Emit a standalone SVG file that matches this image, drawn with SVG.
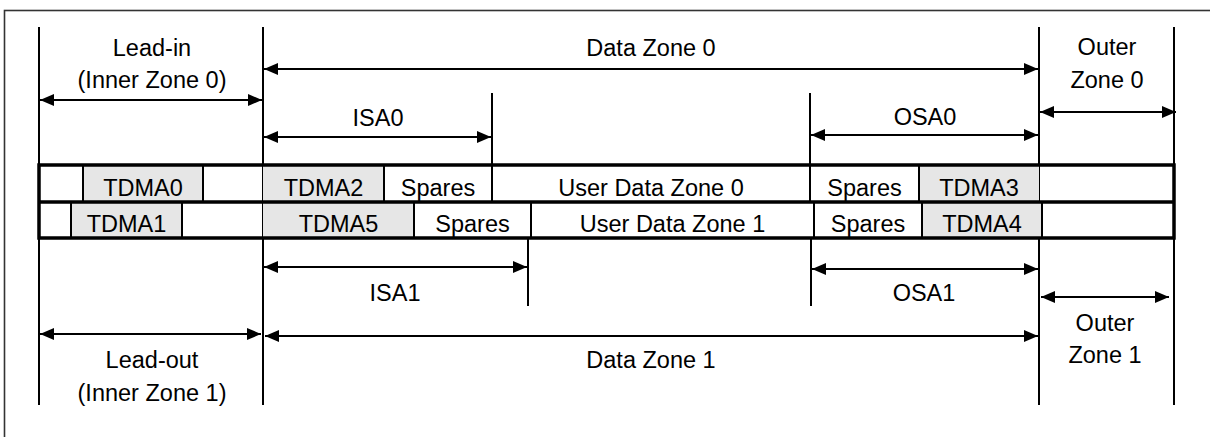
<svg xmlns="http://www.w3.org/2000/svg" width="1210" height="437" viewBox="0 0 1210 437">
<style>
text{font-family:"Liberation Sans",Arial,sans-serif;font-size:23.5px;fill:#000;text-anchor:middle}
.v{stroke:#000;stroke-width:2;fill:none}
.a{stroke:#000;stroke-width:2;fill:none;marker-start:url(#ah);marker-end:url(#ah)}
.g{fill:#e6e6e6;stroke:none}
.d{stroke:#000;stroke-width:2}
.b{stroke:#000;stroke-width:3.5;fill:none}
</style>
<defs>
<marker id="ah" viewBox="0 0 14 12" refX="14" refY="6" markerWidth="14" markerHeight="12" markerUnits="userSpaceOnUse" orient="auto-start-reverse">
<path d="M0,0 L14,6 L0,12 z" fill="#000"/>
</marker>
</defs>
<rect x="0" y="0" width="1210" height="437" fill="#fff"/>
<rect id="frame" x="4.5" y="10.5" width="1300" height="500" fill="none" stroke="#333" stroke-width="1.6"/>

<g id="guides">
<line class="v" x1="39" y1="27" x2="39" y2="405"/>
<line class="v" x1="263" y1="27" x2="263" y2="405"/>
<line class="v" x1="1039" y1="27" x2="1039" y2="405"/>
<line class="v" x1="1174" y1="27" x2="1174" y2="405"/>
<line class="v" x1="492" y1="93" x2="492" y2="165"/>
<line class="v" x1="810" y1="93" x2="810" y2="165"/>
<line class="v" x1="528" y1="238" x2="528" y2="306"/>
<line class="v" x1="811" y1="238" x2="811" y2="306"/>
</g>

<g id="row0">
<rect class="g" x="83" y="165" width="120" height="37"/>
<rect class="g" x="263" y="165" width="121" height="37"/>
<rect class="g" x="919" y="165" width="120" height="37"/>
<line class="d" x1="83" y1="165" x2="83" y2="202"/>
<line class="d" x1="203" y1="165" x2="203" y2="202"/>
<line class="d" x1="384" y1="165" x2="384" y2="202"/>
<line class="d" x1="492" y1="165" x2="492" y2="202"/>
<line class="d" x1="810" y1="165" x2="810" y2="202"/>
<line class="d" x1="919" y1="165" x2="919" y2="202"/>
</g>
<g id="row1">
<rect class="g" x="71" y="202" width="111" height="36"/>
<rect class="g" x="263" y="202" width="151" height="36"/>
<rect class="g" x="922" y="202" width="120" height="36"/>
<line class="d" x1="71" y1="202" x2="71" y2="238"/>
<line class="d" x1="182" y1="202" x2="182" y2="238"/>
<line class="d" x1="414" y1="202" x2="414" y2="238"/>
<line class="d" x1="531" y1="202" x2="531" y2="238"/>
<line class="d" x1="814" y1="202" x2="814" y2="238"/>
<line class="d" x1="922" y1="202" x2="922" y2="238"/>
<line class="d" x1="1042" y1="202" x2="1042" y2="238"/>
</g>
<g id="table-border">
<rect class="b" x="39" y="165" width="1135" height="73"/>
<line class="b" x1="39" y1="202" x2="1174" y2="202"/>
</g>

<g id="cell-labels">
<text x="143" y="196">TDMA0</text>
<text x="323.5" y="196">TDMA2</text>
<text x="438" y="196">Spares</text>
<text x="651" y="196">User Data Zone 0</text>
<text x="864.5" y="196">Spares</text>
<text x="979" y="196">TDMA3</text>
<text x="126.5" y="232">TDMA1</text>
<text x="338.5" y="232">TDMA5</text>
<text x="472.5" y="232">Spares</text>
<text x="672.5" y="232">User Data Zone 1</text>
<text x="868" y="232">Spares</text>
<text x="982" y="232">TDMA4</text>
</g>

<g id="leadin"><text x="152" y="56">Lead-in</text><text x="152" y="88">(Inner Zone 0)</text></g>
<g id="datazone0"><text x="651" y="56">Data Zone 0</text></g>
<g id="isa0"><text x="378" y="126">ISA0</text></g>
<g id="osa0"><text x="925" y="125">OSA0</text></g>
<g id="outerzone0"><text x="1107" y="55">Outer</text><text x="1107" y="88">Zone 0</text></g>
<g id="isa1"><text x="395" y="301">ISA1</text></g>
<g id="osa1"><text x="924" y="301">OSA1</text></g>
<g id="outerzone1"><text x="1105" y="331">Outer</text><text x="1105" y="363">Zone 1</text></g>
<g id="leadout"><text x="152" y="368">Lead-out</text><text x="152" y="401">(Inner Zone 1)</text></g>
<g id="datazone1"><text x="651" y="368">Data Zone 1</text></g>

<g id="connectors">
<line class="a" x1="40" y1="100" x2="262" y2="100"/>
<line class="a" x1="264" y1="69" x2="1038" y2="69"/>
<line class="a" x1="264" y1="137" x2="491" y2="137"/>
<line class="a" x1="811" y1="135" x2="1038" y2="135"/>
<line class="a" x1="1040" y1="112" x2="1176" y2="112"/>
<line class="a" x1="264" y1="267" x2="527" y2="267"/>
<line class="a" x1="812" y1="269" x2="1038" y2="269"/>
<line class="a" x1="1041" y1="297" x2="1169" y2="297"/>
<line class="a" x1="40" y1="334" x2="261" y2="334"/>
<line class="a" x1="265" y1="336" x2="1038" y2="336"/>
</g>
</svg>
